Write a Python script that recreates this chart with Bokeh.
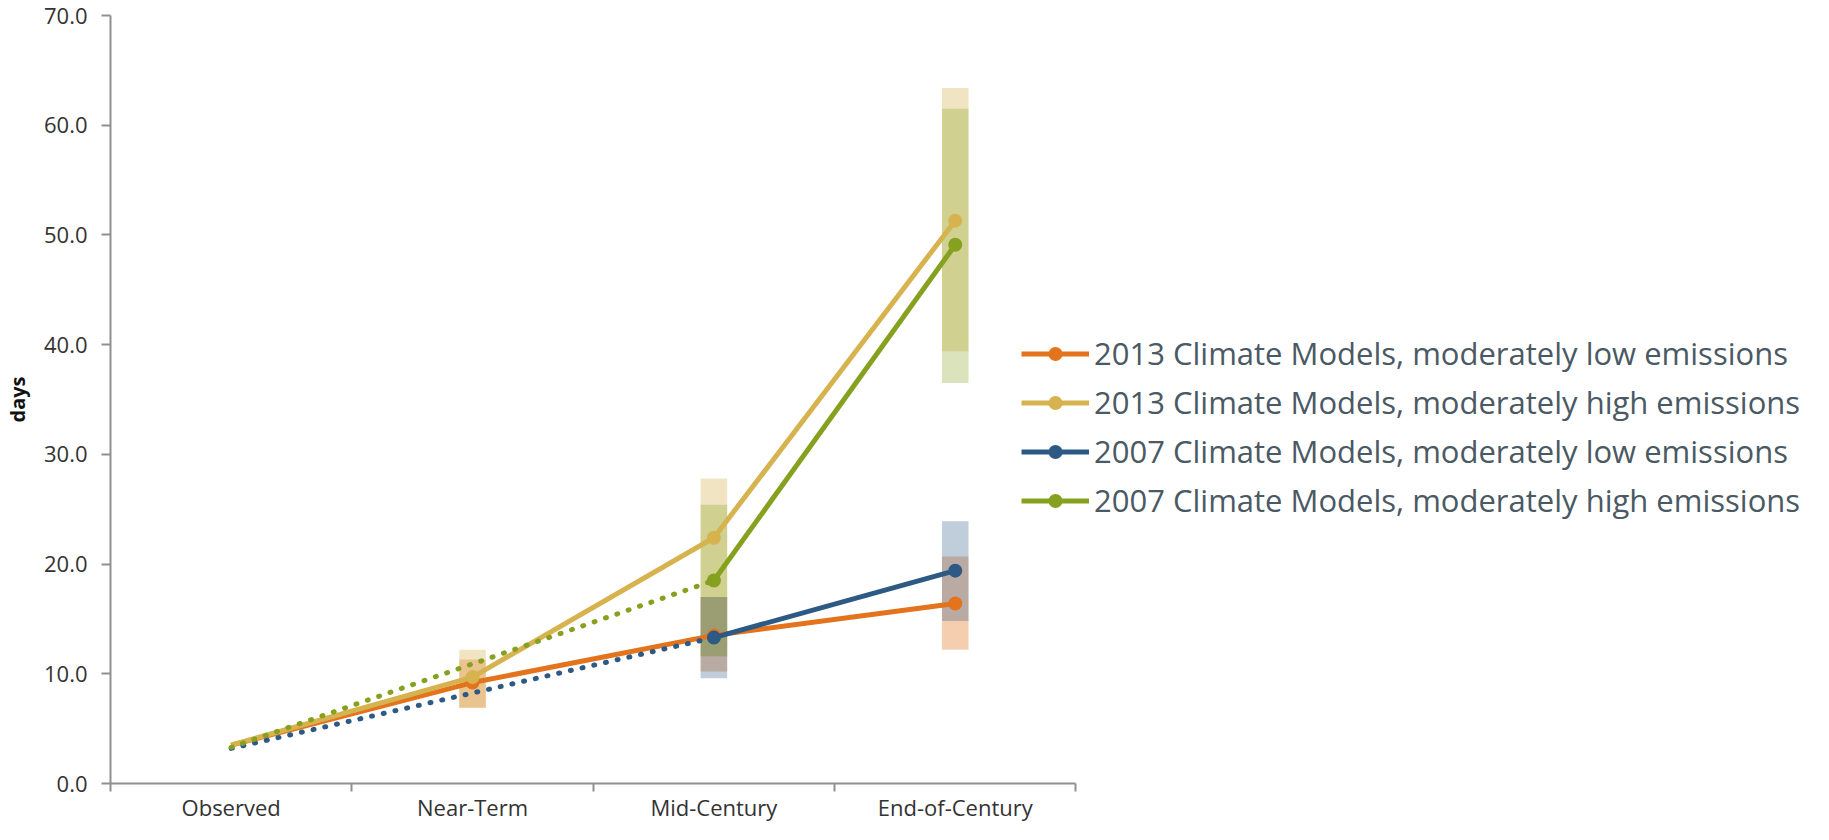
import numpy as np
from bokeh.plotting import figure
from bokeh.models import Range1d, FixedTicker, NumeralTickFormatter, Legend, LegendItem
from bokeh.embed import file_html
from bokeh.resources import INLINE

nan = float("nan")

categories = ["Observed", "Near-Term", "Mid-Century", "End-of-Century"]
y_ticks = [0, 10, 20, 30, 40, 50, 60, 70]

series_names = [
    "2013 Climate Models, moderately low emissions",
    "2013 Climate Models, moderately high emissions",
    "2007 Climate Models, moderately low emissions",
    "2007 Climate Models, moderately high emissions",
]
series_colors = ["#e3731c", "#d6b34f", "#2d5985", "#86a11f"]

# central values (days)
low_2013 = [3.5, 9.2, 13.5, 16.4]
high_2013 = [3.5, 9.7, 22.4, 51.3]
low_2007 = [3.2, nan, 13.3, 19.4]
high_2007 = [3.3, nan, 18.5, 49.1]

# model ranges (bottom, top)
low_2013_lo = [nan, 6.9, 10.2, 12.2]
low_2013_hi = [nan, 11.3, 17.0, 20.7]
high_2013_lo = [nan, 6.9, 11.6, 39.4]
high_2013_hi = [nan, 12.2, 27.8, 63.4]
low_2007_lo = [nan, nan, 9.6, 14.8]
low_2007_hi = [nan, nan, 17.0, 23.9]
high_2007_lo = [nan, nan, 11.6, 36.5]
high_2007_hi = [nan, nan, 25.4, 61.5]

values = [low_2013, high_2013, low_2007, high_2007]
lows = [low_2013_lo, high_2013_lo, low_2007_lo, high_2007_lo]
highs = [low_2013_hi, high_2013_hi, low_2007_hi, high_2007_hi]
is_2007 = [False, False, True, True]

xs = np.arange(len(categories)) + 0.5

W, H = 1813, 824
LEFT = 109
AXIS_W = 966  # pixel width of the category axis
x_end = len(categories) * (W - LEFT) / AXIS_W

p = figure(width=W, height=H, output_backend="svg", toolbar_location=None,
           x_range=Range1d(0, x_end), y_range=Range1d(0, 70),
           min_border_left=LEFT, min_border_right=0, min_border_top=15,
           min_border_bottom=0, background_fill_color="white",
           border_fill_color="white")
p.outline_line_color = None
p.xgrid.visible = False
p.ygrid.visible = False

axis_col = "#909090"
lbl_col = "#333333"

# x axis: category labels centred, tick marks between categories
p.xaxis.bounds = (0, len(categories))
p.xaxis.ticker = FixedTicker(ticks=[float(v) for v in xs],
                             minor_ticks=list(range(len(categories) + 1)))
p.xaxis.major_label_overrides = {float(v): c for v, c in zip(xs, categories)}
p.xaxis.major_tick_line_color = None
p.xaxis.major_tick_out = 0
p.xaxis.major_tick_in = 0
p.xaxis.minor_tick_line_color = axis_col
p.xaxis.minor_tick_line_width = 2
p.xaxis.minor_tick_out = 8
p.xaxis.minor_tick_in = 0
p.xaxis.axis_line_color = axis_col
p.xaxis.axis_line_width = 2
p.xaxis.major_label_standoff = 0
p.xaxis.major_label_text_font = "Open Sans"
p.xaxis.major_label_text_font_size = "22px"
p.xaxis.major_label_text_color = lbl_col

p.yaxis.ticker = FixedTicker(ticks=y_ticks)
p.yaxis.formatter = NumeralTickFormatter(format="0.0")
p.yaxis.major_tick_out = 9
p.yaxis.major_tick_in = 0
p.yaxis.major_tick_line_color = axis_col
p.yaxis.major_tick_line_width = 2
p.yaxis.minor_tick_line_color = None
p.yaxis.axis_line_color = axis_col
p.yaxis.axis_line_width = 2
p.yaxis.major_label_standoff = 14
p.yaxis.major_label_text_font = "Open Sans"
p.yaxis.major_label_text_font_size = "22px"
p.yaxis.major_label_text_color = lbl_col
p.yaxis.axis_label = "days"
p.yaxis.axis_label_text_font = "Open Sans"
p.yaxis.axis_label_text_font_style = "bold"
p.yaxis.axis_label_text_font_size = "20px"
p.yaxis.axis_label_text_color = "#111111"
p.yaxis.axis_label_standoff = 10

# range bars (drawn orange, gold, green, blue so that the overlaps blend)
bar_alpha = [0.35, 0.35, 0.3, 0.3]
for k in [0, 1, 3, 2]:
    p.vbar(x=xs, bottom=lows[k], top=highs[k], width=0.11,
           fill_color=series_colors[k], fill_alpha=bar_alpha[k], line_color=None)

items = []
for k in range(4):
    vals = np.array(values[k], dtype=float)
    col = series_colors[k]
    mid = 2
    if is_2007[k]:
        idx = [i for i in range(0, mid + 1) if np.isfinite(vals[i])]
        p.line(xs[idx], vals[idx], line_color=col, line_width=5,
               line_dash="1 11", line_cap="round")
        sidx = list(range(mid, len(vals)))
        midx = sidx
    else:
        sidx = list(range(len(vals)))
        midx = list(range(1, len(vals)))
    ln = p.line(xs[sidx], vals[sidx], line_color=col, line_width=5,
                line_join="round")
    sc = p.scatter(xs[midx], vals[midx], size=14, fill_color=col,
                   line_color=None, marker="circle")
    items.append(LegendItem(label=series_names[k], renderers=[ln, sc]))

legend = Legend(items=items, location=(911, 261), orientation="vertical",
                padding=0, margin=0, spacing=5, label_standoff=5,
                glyph_width=68, glyph_height=35, label_height=44,
                border_line_color=None, background_fill_alpha=0,
                label_text_font="Open Sans", label_text_font_size="31px",
                label_text_color="#4a5963")
p.add_layout(legend)

open("out.html", "w").write(file_html(p, INLINE))
